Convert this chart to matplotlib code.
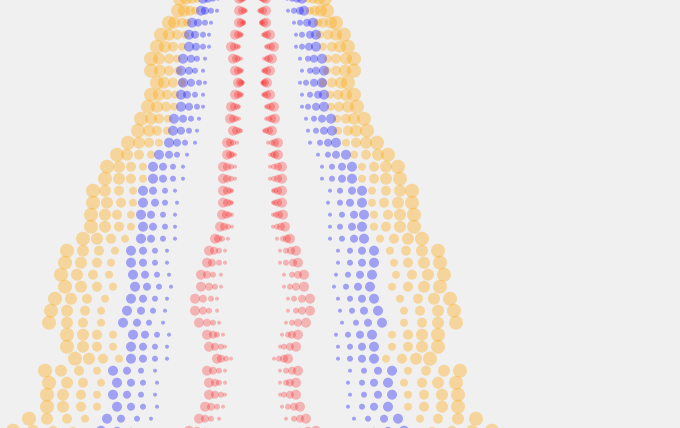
import numpy as np
import matplotlib.pyplot as plt

# row positions (pixels from top), one row every 12 px
rows = [-1.3 + 12 * k for k in range(38)]

# left half x positions of the dots, outer -> inner, per row
orange = [
    (180, 186, 192, 197), (178, 184, 190, 195), (169, 174, 182, 187), (161, 169, 177, 185),
    (157, 165, 173, 182), (151, 159, 169, 177), (151, 160, 169, 178), (157, 164, 173, 182),
    (151, 159, 167, 175), (148, 157, 166, 174), (141, 151, 159, 168), (138, 149, 157, 167),
    (128, 139, 149, 159), (117, 127, 139, 151), (107, 119, 131, 143), (105, 119, 131, 143),
    (93, 105, 119, 133), (93, 107, 121, 133), (91, 105, 117, 131), (91, 105, 119, 131),
    (83, 97, 111, 125), (67, 83, 99, 115), (65, 81, 97, 111), (61, 77, 93, 109),
    (65, 81, 97, 113), (55, 71, 87, 105), (51, 67, 85, 101), (49, 67, 83, 101),
    (67, 83, 97, 113), (67, 83, 97, 113), (75, 89, 103, 119), (45, 61, 79, 97),
    (49, 67, 83, 101), (47, 63, 81, 97), (47, 63, 81, 97), (29, 47, 67, 85),
    (13, 33, 53, 73), (13, 33, 53, 73),
]
blue = [
    (203, 208, 213, 218), (201, 205, 211, 217), (192, 198, 205, 211), (189, 195, 203, 209),
    (189, 196, 203, 209), (183, 191, 197, 205), (181, 189, 195, 203), (183, 191, 199, 205),
    (181, 187, 195, 203), (181, 189, 197, 203), (174, 183, 191, 199), (173, 181, 189, 197),
    (169, 177, 185, 195), (159, 169, 177, 187), (153, 163, 173, 183), (153, 163, 173, 183),
    (143, 153, 165, 175), (143, 155, 165, 177), (141, 151, 163, 175), (143, 153, 165, 175),
    (141, 151, 163, 175), (131, 143, 155, 167), (131, 143, 155, 167), (133, 145, 157, 169),
    (135, 147, 159, 171), (131, 143, 155, 167), (127, 141, 153, 165), (123, 137, 149, 163),
    (133, 145, 157, 169), (131, 143, 155, 167), (131, 143, 155, 167), (113, 127, 141, 155),
    (117, 131, 143, 157), (113, 127, 141, 155), (117, 131, 143, 157), (107, 121, 137, 151),
    (101, 117, 131, 145), (101, 117, 131, 145),
]
red = [
    (239, 241, 243, 245), (239, 242, 244, 246), (239, 241, 243, 244), (235, 238, 240, 242),
    (231, 234, 237, 239), (233, 236, 238, 241), (235, 238, 240, 242), (238, 240, 241, 243),
    (235, 238, 240, 242), (231, 234, 237, 239), (230, 233, 236, 239), (233, 236, 239, 241),
    (227, 230, 233, 237), (227, 230, 232, 235), (223, 227, 231, 235), (223, 227, 231, 235),
    (223, 227, 230, 232), (223, 227, 230, 232), (222, 226, 229, 232), (220, 224, 228, 232),
    (215, 218, 222, 228), (209, 214, 219, 225), (207, 212, 219, 225), (201, 207, 213, 221),
    (201, 209, 215, 221), (195, 203, 211, 217), (195, 203, 209, 217), (199, 207, 213, 219),
    (207, 213, 217, 223), (209, 215, 221, 225), (217, 221, 226, 231), (207, 213, 219, 225),
    (209, 215, 219, 225), (209, 215, 221, 225), (205, 211, 217, 223), (199, 205, 211, 219),
    (189, 197, 205, 213), (189, 197, 205, 213),
]

center = 252.5
W, H = 680, 428
fig = plt.figure(figsize=(W / 100, H / 100), dpi=100)
fig.patch.set_facecolor('#f0f0f0')
ax = fig.add_axes([0, 0, 1, 1])
ax.set_facecolor('#f0f0f0')

groups = [
    (orange, [14, 12, 10, 8], 'orange', 0.35),
    (blue, [10, 8, 6, 4], 'blue', 0.33),
    (red, [10, 8, 6, 4], 'red', 0.25),
]
for data, diam, color, alpha in groups:
    xs = np.array(data, dtype=float)
    ys = np.repeat(np.array(rows)[:, None], 4, axis=1)
    s = np.tile((np.array(diam) * 0.72) ** 2, (len(rows), 1))
    for side in (xs, 2 * center - xs):
        ax.scatter(side.ravel(), ys.ravel(), s=s.ravel(), color=color,
                   alpha=alpha, linewidths=0)

ax.set_xlim(0, W)
ax.set_ylim(H, 0)
ax.axis('off')
fig.savefig('out.png', dpi=100, facecolor=fig.get_facecolor())
